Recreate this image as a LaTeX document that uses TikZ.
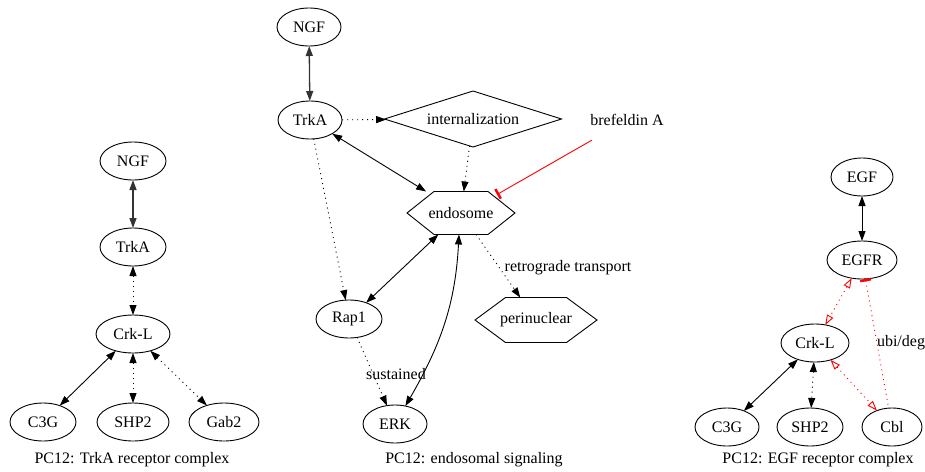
\documentclass[tikz,border=0pt]{standalone}
\usepackage{fontspec}
\setmainfont{Liberation Serif}
\usetikzlibrary{arrows.meta,shapes.geometric,calc}
\newcommand{\hexpath}[1]{\draw[conn] (#1.west) -- ($(#1.north west)!.25!(#1.north east)$) -- ($(#1.north west)!.75!(#1.north east)$) -- (#1.east) -- ($(#1.south west)!.75!(#1.south east)$) -- ($(#1.south west)!.25!(#1.south east)$) -- cycle;}
\begin{document}
\begin{tikzpicture}[x=1pt,y=1pt,
  font=\fontsize{16}{19}\selectfont,
  conn/.style={line width=0.9pt},
  ell/.style={ellipse,draw,line width=0.9pt,minimum height=38pt,inner sep=0pt,outer sep=0pt},
  hexbox/.style={rectangle,draw=none,inner sep=0pt,outer sep=0pt},
  dots/.style={conn,dash pattern=on 1pt off 4pt},
  heavy/.style={line width=1.3pt,black!80},
  bi/.style={{Triangle[length=10pt,width=7pt]}-{Triangle[length=10pt,width=7pt]}},
  fw/.style={-{Triangle[length=10pt,width=7pt]}},
  biopen/.style={{Triangle[open,length=10pt,width=7pt]}-{Triangle[open,length=10pt,width=7pt]}},
  teeend/.style={-{Bar[width=11pt,line width=2.5pt]}},
  teestart/.style={{Bar[width=11pt,line width=2.5pt]}-},
  inh/.style={conn,red},
  redots/.style={dots,red}
]
\useasboundingbox (0,0) rectangle (925,-471);

% ---------- left: TrkA receptor complex ----------
\node[ell,minimum width=66pt] (lngf) at (133,-161) {NGF};
\node[ell,minimum width=66pt] (ltrka) at (133,-247) {TrkA};
\node[ell,minimum width=74pt] (lcrk) at (133,-334) {Crk-L};
\node[ell,minimum width=66pt] (lc3g) at (43,-422) {C3G};
\node[ell,minimum width=72pt] (lshp) at (133,-422) {SHP2};
\node[ell,minimum width=70pt] (lgab) at (224,-422) {Gab2};
\node (llab) at (132,-460) {PC12: TrkA receptor complex};

\draw[heavy,bi] (lngf) -- (ltrka);
\draw[dots,bi] (ltrka) -- (lcrk);
\draw[conn,bi] (lcrk) -- (lc3g);
\draw[dots,bi] (lcrk) -- (lshp);
\draw[dots,bi] (lcrk) -- (lgab);

% ---------- middle: endosomal signaling ----------
\node[ell,minimum width=64pt] (mngf) at (309,-27) {NGF};
\node[ell,minimum width=64pt] (mtrka) at (310,-120) {TrkA};
\node[diamond,draw,line width=0.9pt,aspect=3.2,inner sep=0pt,outer sep=0pt,minimum width=177pt,minimum height=56pt] (mint) at (473,-119) {internalization};
\node[rectangle,inner sep=0pt,minimum width=80pt,minimum height=40pt] (mbref) at (627,-120) {brefeldin A};
\node[hexbox,minimum width=108pt,minimum height=43pt] (mendo) at (461,-213) {endosome};
\hexpath{mendo}
\node[hexbox,minimum width=122pt,minimum height=45pt] (mperi) at (536,-320) {perinuclear};
\hexpath{mperi}
\node[ell,minimum width=66pt] (mrap) at (349,-319) {Rap1};
\node[ell,minimum width=64pt] (merk) at (395,-424) {ERK};
\node (mlab) at (474,-460) {PC12: endosomal signaling};
\node (mret) at (568,-268) {retrograde transport};
\node (msus) at (396,-374) {sustained};
\coordinate (endotee) at ($(mendo.north east)+(-18,-3)$);

\draw[heavy,bi] (mngf) -- (mtrka);
\draw[dots,fw] (mtrka) -- (mint);
\draw[conn,bi] (mtrka) -- (mendo);
\draw[dots,fw] (mint) -- (mendo);
\draw[inh,teeend] (mbref) -- (endotee);
\draw[dots,fw] (mtrka) -- (mrap.100);
\draw[conn,bi] (mendo) -- (mrap);
\draw[conn,bi] ([xshift=-2pt]mendo.south) to[out=-93,in=60] (merk);
\draw[dots,fw] (mendo) -- (mperi);
\draw[dots,fw] (mrap) -- (merk);

% ---------- right: EGF receptor complex ----------
\node[ell,minimum width=62pt] (regf) at (862,-177) {EGF};
\node[ell,minimum width=70pt] (regfr) at (862,-260) {EGFR};
\node[ell,minimum width=68pt] (rcrk) at (815,-343) {Crk-L};
\node[ell,minimum width=64pt] (rc3g) at (727,-427) {C3G};
\node[ell,minimum width=66pt] (rshp) at (810,-427) {SHP2};
\node[ell,minimum width=60pt] (rcbl) at (892,-427) {Cbl};
\node (rlab) at (818,-460) {PC12: EGF receptor complex};
\node (rubi) at (901,-343) {ubi/deg};

\draw[conn,bi] (regf) -- (regfr);
\draw[redots,biopen] (regfr) -- (rcrk);
\draw[redots,teestart] (regfr) -- (rcbl);
\draw[conn,bi] (rcrk) -- (rc3g);
\draw[dots,bi] (rcrk) -- (rshp);
\draw[redots,biopen] (rcrk) -- (rcbl);
\end{tikzpicture}
\end{document}
